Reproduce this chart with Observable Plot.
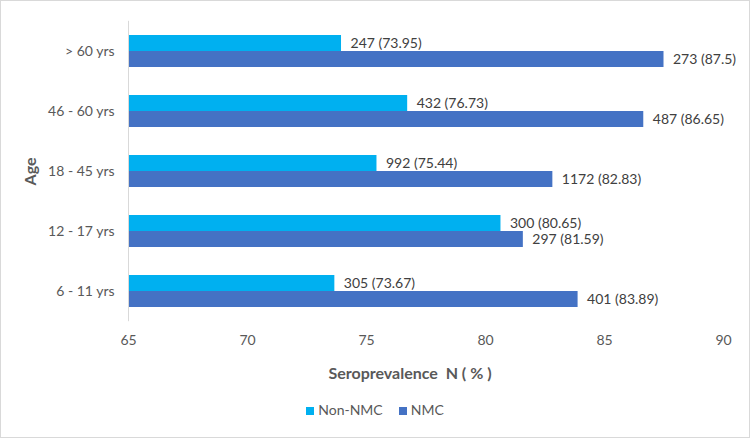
<!DOCTYPE html>
<html><head><meta charset="utf-8">
<script src="https://cdn.jsdelivr.net/npm/d3@7"></script>
<script src="https://cdn.jsdelivr.net/npm/@observablehq/plot@0.6"></script>
<style>
body{margin:0;background:#fff;font-family:Lato,"Open Sans",sans-serif;}
#wrap{position:relative;width:750px;height:438px;overflow:hidden}
#frame{position:absolute;left:0;top:0;width:748px;height:436px;border:1px solid #d9d9d9;pointer-events:none}
#xtitle{position:absolute;top:362px;left:260px;width:300px;text-align:center;font-size:16px;font-weight:bold;color:#595959;line-height:22px}
#legend{position:absolute;top:401px;left:0;width:750px;text-align:center;font-size:14px;color:#595959;font-family:Lato,sans-serif}
#legend span.item{display:inline-block;margin:0 8px}
#legend span.sw{display:inline-block;width:8px;height:8px;margin-right:4px;vertical-align:0px}
g[aria-label="fy-axis label"] text{font-weight:bold;font-size:16px}
</style>
</head><body>
<div id="wrap"><div id="chart"></div><div id="xtitle"></div><div id="legend"></div><div id="frame"></div></div>
<script>
const ages = ["> 60 yrs", "46 - 60 yrs", "18 - 45 yrs", "12 - 17 yrs", "6 - 11 yrs"];
const series = ["Non-NMC", "NMC"];
const nonNmcN = [247, 432, 992, 300, 305];
const nonNmcPct = [73.95, 76.73, 75.44, 80.65, 73.67];
const nmcN = [273, 487, 1172, 297, 401];
const nmcPct = [87.5, 86.65, 82.83, 81.59, 83.89];
const xTicks = [65, 70, 75, 80, 85, 90];
const colors = ["#00B0F0", "#4472C4"];
const xTitle = "Seroprevalence  N ( % )";
const yTitle = "Age";

const data = [];
ages.forEach((a, i) => {
  data.push({age: a, series: "Non-NMC", n: nonNmcN[i], pct: nonNmcPct[i]});
  data.push({age: a, series: "NMC", n: nmcN[i], pct: nmcPct[i]});
});
const xMin = xTicks[0], xMax = xTicks[xTicks.length - 1];

const chart = Plot.plot({
  width: 750,
  height: 438,
  marginLeft: 128,
  marginRight: 27,
  marginTop: 20,
  marginBottom: 117,
  style: {fontFamily: "Lato, 'Open Sans', sans-serif", fontSize: "14px", color: "#595959", background: "transparent"},
  x: {domain: [xMin, xMax], ticks: xTicks, tickSize: 0, tickPadding: 28, label: null},
  fy: {domain: ages, paddingInner: 0.47, paddingOuter: 0.235, axis: "left", tickSize: 0, tickPadding: 14, label: yTitle, labelAnchor: "center", labelOffset: 104},
  y: {domain: series, padding: 0, axis: null},
  color: {domain: series, range: colors},
  marks: [
    Plot.barX(data, {x1: () => xMin, x2: "pct", y: "series", fy: "age", fill: "series"}),
    Plot.ruleX([xMin], {stroke: "#d9d9d9", insetTop: -14.2, insetBottom: -14.2}),
    Plot.text(data, {x: "pct", y: "series", fy: "age", text: d => `${d.n} (${d.pct})`, textAnchor: "start", dx: 9, fill: "#404040", fontSize: 14})
  ]
});
document.getElementById("chart").appendChild(chart);
document.getElementById("xtitle").textContent = xTitle;
document.getElementById("xtitle").style.whiteSpace = "pre";

const legend = document.getElementById("legend");
series.forEach((s, i) => {
  const item = document.createElement("span");
  item.className = "item";
  const sw = document.createElement("span");
  sw.className = "sw";
  sw.style.background = colors[i];
  item.appendChild(sw);
  item.appendChild(document.createTextNode(s));
  legend.appendChild(item);
});
</script>
</body></html>
